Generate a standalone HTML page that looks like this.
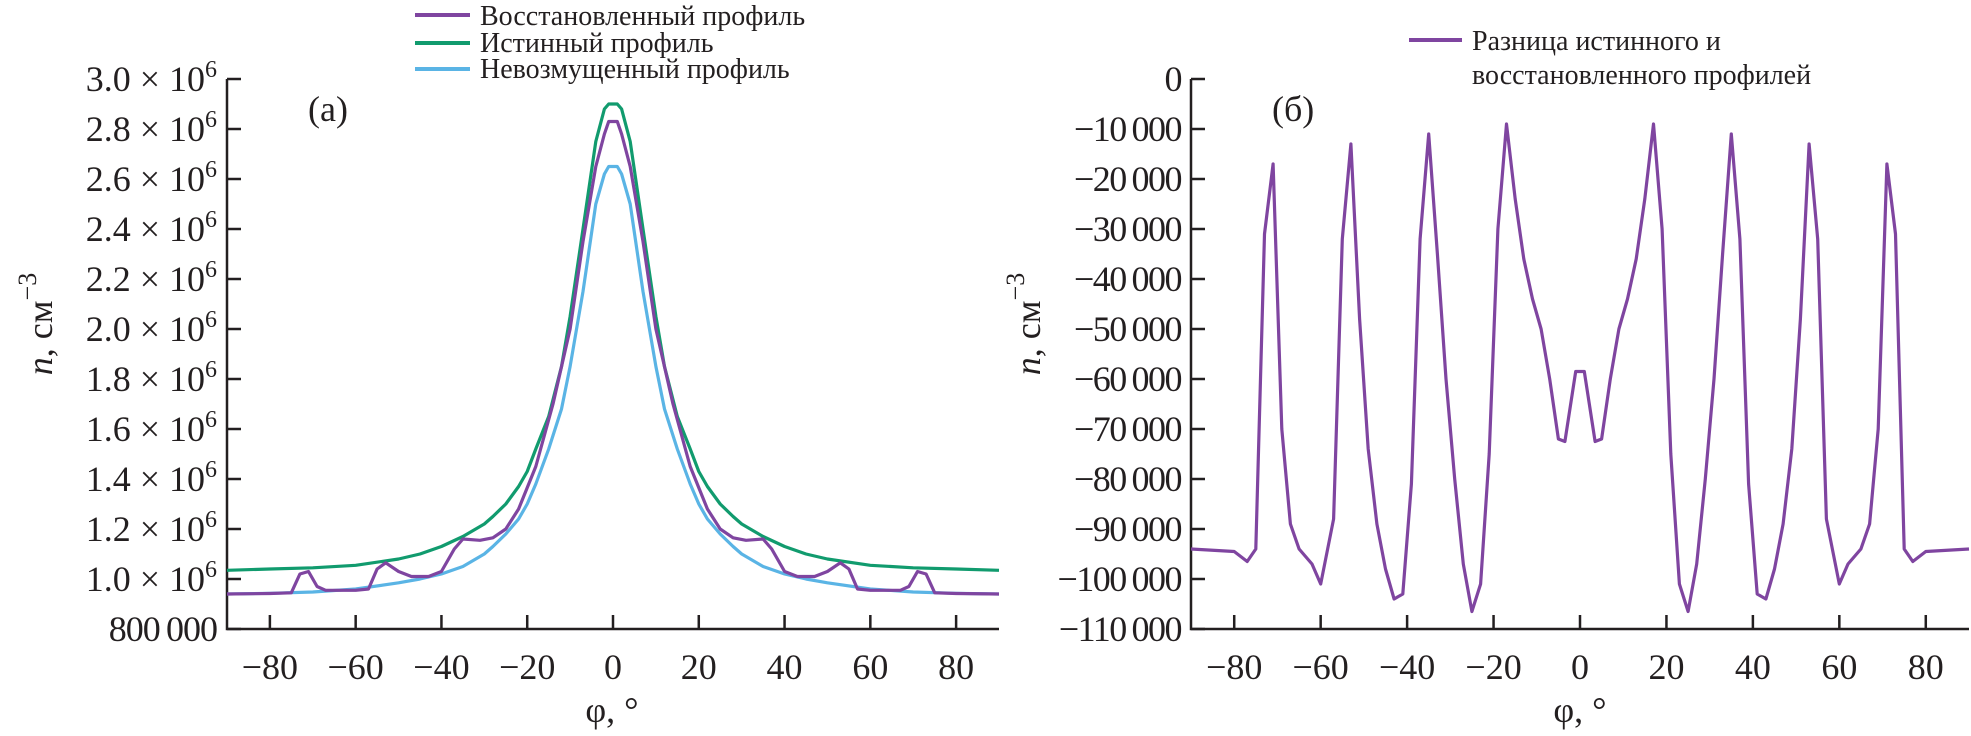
<!DOCTYPE html>
<html><head><meta charset="utf-8"><style>
html,body{margin:0;padding:0;background:#fff;}
svg{display:block;font-family:"Liberation Serif","Noto Serif CJK SC",serif;}
.tk{font-size:36px;fill:#231f20;}
.lg{font-size:28px;fill:#231f20;}
</style></head><body>
<svg id="chart" width="1971" height="736" viewBox="0 0 1971 736" xmlns="http://www.w3.org/2000/svg">
<g id="left"></g>
<g id="right"></g>
</svg>
<script>
// ---- Panel (a) data ----
const phiTrue = [-90,-80,-70,-60,-50,-45,-40,-35,-30,-28,-25,-22,-20,-18,-15,-12,-10,-7,-4,-2,-1,1,2,4,7,10,12,15,18,20,22,25,28,30,35,40,45,50,60,70,80,90];
const nTrue = [1.035,1.04,1.045,1.055,1.08,1.10,1.13,1.17,1.22,1.25,1.30,1.37,1.43,1.52,1.65,1.85,2.05,2.40,2.75,2.88,2.9,2.9,2.88,2.75,2.40,2.05,1.85,1.65,1.52,1.43,1.37,1.30,1.25,1.22,1.17,1.13,1.10,1.08,1.055,1.045,1.04,1.035];
const phiBase = [-90,-80,-70,-60,-50,-45,-40,-35,-30,-28,-25,-22,-20,-18,-15,-12,-10,-7,-4,-2,-1,1,2,4,7,10,12,15,18,20,22,25,28,30,35,40,45,50,60,70,80,90];
const nBase = [0.94,0.943,0.948,0.96,0.985,1.0,1.02,1.05,1.10,1.13,1.18,1.24,1.30,1.38,1.52,1.68,1.85,2.15,2.50,2.62,2.65,2.65,2.62,2.50,2.15,1.85,1.68,1.52,1.38,1.30,1.24,1.18,1.13,1.10,1.05,1.02,1.0,0.985,0.96,0.948,0.943,0.94];
const phiRec = [-90,-80,-75,-73,-71,-69,-67,-60,-57,-55,-53,-50,-47,-43,-40,-37,-35,-31,-28,-25,-22,-18,-14,-10,-7,-4,-2,-1,1,2,4,7,10,14,18,22,25,28,31,35,37,40,43,47,50,53,55,57,60,67,69,71,73,75,80,90];
const nRec = [0.94,0.942,0.945,1.02,1.03,0.97,0.955,0.955,0.96,1.04,1.065,1.03,1.01,1.01,1.03,1.12,1.16,1.155,1.165,1.2,1.28,1.45,1.7,2.0,2.35,2.65,2.78,2.83,2.83,2.78,2.65,2.35,2.0,1.7,1.45,1.28,1.2,1.165,1.155,1.16,1.12,1.03,1.01,1.01,1.03,1.065,1.04,0.96,0.955,0.955,0.97,1.03,1.02,0.945,0.942,0.94];
const xTicks = [-80,-60,-40,-20,0,20,40,60,80];
const yTicksA = [0.8,1.0,1.2,1.4,1.6,1.8,2.0,2.2,2.4,2.6,2.8,3.0];
// ---- Panel (b) data ----
const phiDiff = [-90,-80,-77,-75,-73,-71,-69,-67,-65,-62,-60,-57,-55,-53,-51,-49,-47,-45,-43,-41,-39,-37,-35,-33,-31,-29,-27,-25,-23,-21,-19,-17,-15,-13,-11,-9,-7,-5,-3.5,-1,1,3.5,5,7,9,11,13,15,17,19,21,23,25,27,29,31,33,35,37,39,41,43,45,47,49,51,53,55,57,60,62,65,67,69,71,73,75,77,80,90];
const nDiff = [-94000,-94500,-96500,-94000,-31000,-17000,-70000,-89000,-94000,-97000,-101000,-88000,-32000,-13000,-48000,-74000,-89000,-98000,-104000,-103000,-81000,-32000,-11000,-35000,-60000,-80000,-97000,-106500,-101000,-75000,-30000,-9000,-24000,-36000,-44000,-50000,-60000,-72000,-72500,-58500,-58500,-72500,-72000,-60000,-50000,-44000,-36000,-24000,-9000,-30000,-75000,-101000,-106500,-97000,-80000,-60000,-35000,-11000,-32000,-81000,-103000,-104000,-98000,-89000,-74000,-48000,-13000,-32000,-88000,-101000,-97000,-94000,-89000,-70000,-17000,-31000,-94000,-96500,-94500,-94000];
const yTicksB = [0,-10000,-20000,-30000,-40000,-50000,-60000,-70000,-80000,-90000,-100000,-110000];

const NS='http://www.w3.org/2000/svg';
function mk(parent, tag, attrs){const e=document.createElementNS(NS,tag);for(const k in attrs)e.setAttribute(k,attrs[k]);parent.appendChild(e);return e;}
const TOP=79, BOT=629;

const ax=v=>613+(v)*(999-227)/180;
const ay=v=>BOT-(v-0.8)*(BOT-TOP)/2.2;
const bx=v=>1580+(v)*(1969-1191)/180;
const by=v=>BOT-(v+110000)*(BOT-TOP)/110000;

function fmtB(v){if(v===0)return '0';const s=Math.abs(v).toString();const t=s.replace(/\B(?=(\d{3})+(?!\d))/g,'\u2009');return '\u2212'+t;}

function axes(g, x0, x1, sx, yTicks, sy, fmt, name){
  const ax1=mk(g,'path',{d:`M${x0} ${TOP} V${BOT} H${x1}`,stroke:'#231f20','stroke-width':2.5,fill:'none'});
  
  
  xTicks.forEach(t=>{
    const l=mk(g,'line',{x1:sx(t),x2:sx(t),y1:BOT,y2:BOT-14,stroke:'#231f20','stroke-width':2.5});
    
    
    const tx=mk(g,'text',{x:sx(t),y:BOT+50,'text-anchor':'middle',class:'tk'});
    tx.textContent=t<0?'\u2212'+Math.abs(t):String(t);
    
    
  });
  yTicks.forEach(t=>{
    const y=sy(t);
    const l=mk(g,'line',{x1:x0,x2:x0+14,y1:y,y2:y,stroke:'#231f20','stroke-width':2.5});
    
    
    const tx=mk(g,'text',{x:x0-10,y:y+12,'text-anchor':'end',class:'tk'});
    fmt(tx,t);
    
    
  });
}
function line(g, xs, ys, sx, sy, color, name){
  const pts=xs.map((x,i)=>sx(x).toFixed(1)+','+sy(ys[i]).toFixed(1)).join(' ');
  const p=mk(g,'polyline',{points:pts,fill:'none',stroke:color,'stroke-width':3.2,'stroke-linejoin':'round'});
  
  
}

const gL=document.getElementById('left');
axes(gL,227,999,ax,yTicksA,ay,(tx,t)=>{
  if(Math.abs(t-0.8)<1e-9){tx.textContent='800\u2009000';tx.setAttribute('letter-spacing','-1');return;}
  tx.textContent=t.toFixed(1)+' \u00d7 10';
  const s=document.createElementNS(NS,'tspan');s.setAttribute('dy','-14');s.setAttribute('font-size','24');s.textContent='6';tx.appendChild(s);
},'panel-a');
line(gL,phiBase,nBase,ax,ay,'#5ab4e5','unperturbed-profile-line');
line(gL,phiTrue,nTrue,ax,ay,'#119b6e','true-profile-line');
line(gL,phiRec,nRec,ax,ay,'#7f45a0','reconstructed-profile-line');

const gR=document.getElementById('right');
axes(gR,1191,1969,bx,yTicksB,by,(tx,t)=>{tx.textContent=fmtB(t);tx.setAttribute('letter-spacing','-1.5');},'panel-b');
line(gR,phiDiff,nDiff,bx,by,'#7f45a0','difference-line');
</script>
<script>
(function(){
const NS='http://www.w3.org/2000/svg';
const svg=document.getElementById('chart');
function t(x,y,txt,attrs,name){const e=document.createElementNS(NS,'text');e.setAttribute('x',x);e.setAttribute('y',y);for(const k in attrs)e.setAttribute(k,attrs[k]);e.textContent=txt;svg.appendChild(e);


return e;}
function l(x1,x2,y,c,name){const e=document.createElementNS(NS,'line');e.setAttribute('x1',x1);e.setAttribute('x2',x2);e.setAttribute('y1',y);e.setAttribute('y2',y);e.setAttribute('stroke',c);e.setAttribute('stroke-width',4);svg.appendChild(e);

}
l(415,470,15,'#7f45a0','legend-swatch-reconstructed');
t(480,25,'Восстановленный профиль',{class:'lg'},'legend-entry-reconstructed');
l(415,470,43,'#119b6e','legend-swatch-true');
t(480,52,'Истинный профиль',{class:'lg'},'legend-entry-true');
l(415,470,69,'#5ab4e5','legend-swatch-unperturbed');
t(480,78,'Невозмущенный профиль',{class:'lg'},'legend-entry-unperturbed');
l(1409,1462,40,'#7f45a0','legend-swatch-difference');
t(1472,50,'Разница истинного и',{class:'lg','font-size':'27'},'legend-entry-difference');
t(1472,84,'восстановленного профилей',{class:'lg','font-size':'27'},'legend-entry-difference-line2');
t(308,121,'(a)',{class:'tk'},'panel-label-a');
t(1272,121,'(б)',{class:'tk'},'panel-label-b');
t(612,722,'φ, °',{class:'tk','text-anchor':'middle'},'x-axis-title-a');
t(1580,722,'φ, °',{class:'tk','text-anchor':'middle'},'x-axis-title-b');
const ya=t(0,0,'',{class:'tk','text-anchor':'middle',transform:'translate(52,324) rotate(-90)'},'y-axis-title-a');
ya.innerHTML='<tspan font-style="italic">n</tspan>, см<tspan dy="-16" font-size="26">\u22123</tspan>';
const yb=t(0,0,'',{class:'tk','text-anchor':'middle',transform:'translate(1040,324) rotate(-90)'},'y-axis-title-b');
yb.innerHTML='<tspan font-style="italic">n</tspan>, см<tspan dy="-16" font-size="26">\u22123</tspan>';
})();
</script>
</body></html>
